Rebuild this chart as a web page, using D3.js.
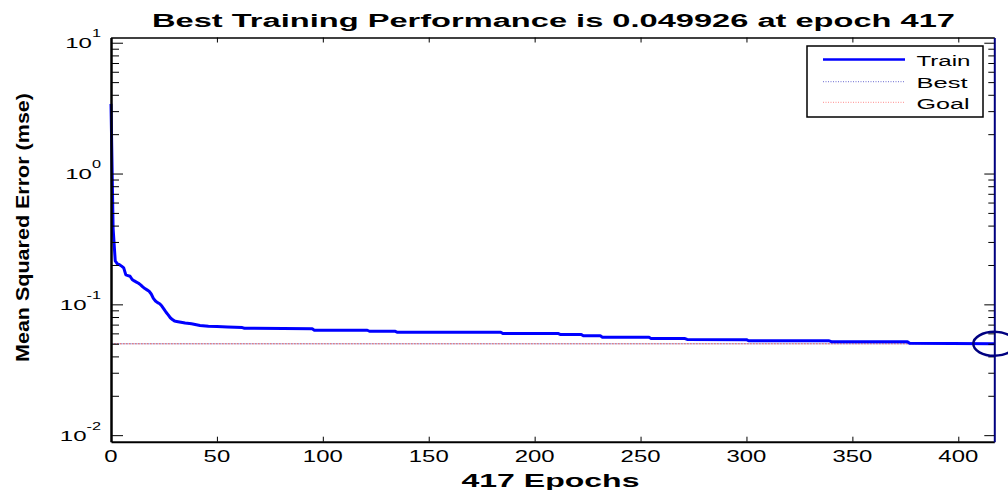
<!DOCTYPE html>
<html>
<head>
<meta charset="utf-8">
<script src="https://cdn.jsdelivr.net/npm/d3@7"></script>
<style>
  body { margin: 0; background: #fff; }
  svg { display: block; font-family: "Liberation Sans", Arial, sans-serif; }
</style>
</head>
<body>
<script>
// training record
var epochs = [0, 1, 2, 3, 4, 5, 6, 7, 8, 9, 10, 11, 12, 13, 14, 15, 16, 17, 18, 19,
              20, 21, 22, 23, 24, 25, 26, 27, 28, 29, 30, 31, 33, 35, 38, 42, 46, 50, 55, 62,
              63, 95, 96, 121, 122, 134, 135, 184, 185, 211, 212, 222, 223, 231, 232, 254, 255,
              271, 272, 300, 301, 339, 340, 376, 377, 417];
var trainMse = [3.41, 0.38, 0.215, 0.204, 0.201, 0.196, 0.190, 0.168, 0.166, 0.164, 0.155, 0.151,
                0.148, 0.145, 0.141, 0.136, 0.132, 0.129, 0.126, 0.120,
                0.111, 0.106, 0.103, 0.101, 0.097, 0.092, 0.087, 0.083, 0.079, 0.0765, 0.0745, 0.0740,
                0.0730, 0.0720, 0.0710, 0.0690, 0.0680, 0.0676, 0.0670, 0.0664,
                0.0657, 0.0650, 0.0634, 0.0634, 0.0623, 0.0623, 0.0613, 0.0613, 0.0599, 0.0599, 0.0589,
                0.0589, 0.0575, 0.0575, 0.0561, 0.0561, 0.0547,
                0.0547, 0.0539, 0.0537, 0.0527, 0.0527, 0.0518, 0.0518, 0.0505, 0.049926];
var bestEpoch = 417;
var bestPerf = 0.049926;
var goalPerf = 0.049926;

var xTicks = [0, 50, 100, 150, 200, 250, 300, 350, 400];
var yDecades = [-2, -1, 0, 1];
var legendLabels = ["Train", "Best", "Goal"];

var W = 1008, H = 490;
var plotL = 111, plotR = 994.3, plotT = 37.5, plotB = 441.7;

var svg = d3.select("body").append("svg")
    .attr("width", W)
    .attr("height", H);

var x = d3.scaleLinear().domain([0, 417]).range([plotL, plotR]);
var y = d3.scaleLog().domain([Math.pow(10, -2.05), Math.pow(10, 1.04)]).range([plotB, plotT]);

// minor ticks for the log axis
var minorVals = [];
yDecades.forEach(function(k) {
  for (var m = 2; m <= 9; m++) {
    var v = m * Math.pow(10, k);
    if (v < y.domain()[1] && v > y.domain()[0]) minorVals.push(v);
  }
});
var majorVals = yDecades.map(function(k) { return Math.pow(10, k); });

// goal / best lines
svg.append("line")
    .attr("x1", x(0)).attr("x2", x(417))
    .attr("y1", y(goalPerf)).attr("y2", y(goalPerf))
    .attr("stroke", "#e04848").attr("stroke-width", 1)
    .attr("stroke-dasharray", "1.5,1.5");
svg.append("line")
    .attr("x1", x(0)).attr("x2", x(417))
    .attr("y1", y(bestPerf)).attr("y2", y(bestPerf))
    .attr("stroke", "#5050c0").attr("stroke-width", 1)
    .attr("stroke-dasharray", "1,2").attr("stroke-dashoffset", 1.5);

// train curve
var line = d3.line()
    .x(function(d) { return x(d[0]); })
    .y(function(d) { return y(d[1]); });

svg.append("path")
    .attr("d", line(d3.zip(epochs, trainMse)))
    .attr("fill", "none")
    .attr("stroke", "#0000ff")
    .attr("stroke-width", 3)
    .attr("stroke-linejoin", "round");

// axes box
svg.append("g")
    .attr("transform", "translate(0," + plotB + ")")
    .call(d3.axisBottom(x).tickValues(xTicks).tickSize(-5).tickSizeOuter(0).tickFormat(""))
    .call(function(g) { g.select(".domain").attr("stroke-width", 2); });
svg.append("g")
    .attr("transform", "translate(0," + plotT + ")")
    .call(d3.axisTop(x).tickValues(xTicks).tickSize(-5).tickSizeOuter(0).tickFormat(""))
    .call(function(g) { g.select(".domain").attr("stroke-width", 1.5); });

svg.append("g")
    .attr("transform", "translate(" + plotL + ",0)")
    .call(d3.axisLeft(y).tickValues(majorVals).tickSize(-12).tickSizeOuter(0).tickFormat(""))
    .call(function(g) { g.select(".domain").attr("stroke-width", 2.5); });
svg.append("g")
    .attr("transform", "translate(" + plotL + ",0)")
    .call(d3.axisLeft(y).tickValues(minorVals).tickSize(-8).tickSizeOuter(0).tickFormat(""))
    .call(function(g) { g.select(".domain").remove(); });

svg.append("g")
    .attr("transform", "translate(" + plotR + ",0)")
    .call(d3.axisRight(y).tickValues(majorVals).tickSize(-10).tickSizeOuter(0).tickFormat(""))
    .call(function(g) { g.select(".domain").attr("stroke", "#000080").attr("stroke-width", 2); });
svg.append("g")
    .attr("transform", "translate(" + plotR + ",0)")
    .call(d3.axisRight(y).tickValues(minorVals).tickSize(-6).tickSizeOuter(0).tickFormat(""))
    .call(function(g) { g.select(".domain").remove(); });

// x tick labels
svg.selectAll(".xlab")
    .data(xTicks)
  .enter().append("text")
    .attr("class", "xlab")
    .attr("transform", function(d) { return "translate(" + x(d) + ",462) scale(1.45,1)"; })
    .attr("text-anchor", "middle")
    .style("font-size", "16.5px")
    .text(function(d) { return d; });

// y tick labels, 10^k
var ylab = svg.selectAll(".ylab")
    .data(yDecades)
  .enter().append("text")
    .attr("class", "ylab")
    .attr("transform", function(d) { return "translate(101," + (y(Math.pow(10, d)) + 5.5) + ") scale(1.55,1)"; })
    .attr("text-anchor", "end")
    .style("font-size", "15.5px");
ylab.append("tspan").text("10");
ylab.append("tspan")
    .attr("dy", -11)
    .style("font-size", "10.5px")
    .text(function(d) { return d; });

// best marker
svg.append("ellipse")
    .attr("cx", x(bestEpoch)).attr("cy", y(bestPerf))
    .attr("rx", 21).attr("ry", 12)
    .attr("fill", "none")
    .attr("stroke", "#000080")
    .attr("stroke-width", 2.5);

// title and labels
svg.append("text")
    .attr("x", 553.5).attr("y", 26.5)
    .attr("text-anchor", "middle")
    .attr("textLength", 803).attr("lengthAdjust", "spacingAndGlyphs")
    .style("font-size", "17.5px").style("font-weight", "bold")
    .text("Best Training Performance is " + bestPerf + " at epoch " + bestEpoch);

svg.append("text")
    .attr("x", 550.5).attr("y", 486.5)
    .attr("text-anchor", "middle")
    .attr("textLength", 178).attr("lengthAdjust", "spacingAndGlyphs")
    .style("font-size", "19px").style("font-weight", "bold")
    .text(epochs[epochs.length - 1] + " Epochs");

svg.append("text")
    .attr("transform", "translate(29,227.5) rotate(-90)")
    .attr("text-anchor", "middle")
    .attr("textLength", 269).attr("lengthAdjust", "spacingAndGlyphs")
    .style("font-size", "19px").style("font-weight", "bold")
    .text("Mean Squared Error  (mse)");

// legend
var legend = svg.append("g");
legend.append("rect")
    .attr("x", 807).attr("y", 46)
    .attr("width", 176).attr("height", 71)
    .attr("fill", "#fff")
    .attr("stroke", "#000")
    .attr("stroke-width", 1.5);

var legendY = [59.5, 81.7, 102.3];
var legendColor = ["#0000ff", "#6a6ad0", "#ff8a8a"];
var legendWidth = [2.5, 1, 1];
var legendDash = [null, "1,1.5", "1,1.5"];
var legendTextLen = [54, 51, 53];

legendLabels.forEach(function(name, i) {
  legend.append("line")
      .attr("x1", 823).attr("x2", 905)
      .attr("y1", legendY[i]).attr("y2", legendY[i])
      .attr("stroke", legendColor[i])
      .attr("stroke-width", legendWidth[i])
      .attr("stroke-dasharray", legendDash[i]);
  legend.append("text")
      .attr("x", 916.5).attr("y", legendY[i] + 6.5)
      .attr("textLength", legendTextLen[i]).attr("lengthAdjust", "spacingAndGlyphs")
      .style("font-size", "15.5px")
      .text(name);
});
</script>
</body>
</html>
